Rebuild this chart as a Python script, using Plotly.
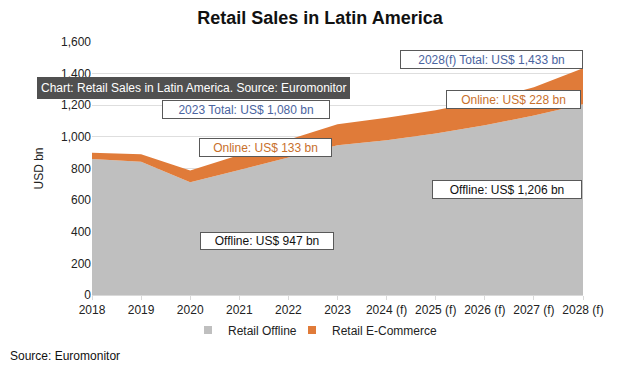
import plotly.graph_objects as go

years = ["2018", "2019", "2020", "2021", "2022", "2023",
         "2024 (f)", "2025 (f)", "2026 (f)", "2027 (f)", "2028 (f)"]
offline = [860, 842, 713, 791, 869, 947, 978, 1022, 1073, 1135, 1206]
online = [40, 48, 74, 95, 113, 133, 143, 147, 158, 179, 228]
y_ticks = [0, 200, 400, 600, 800, 1000, 1200, 1400, 1600]

GRAY = "#bfbfbf"
ORANGE = "#e07b39"
BLUE = "#4a64a0"
ORTXT = "#c8702c"
FONT = "Liberation Sans, Arial, sans-serif"

# page body has an 8px default margin: draw the figure 8px smaller and shift coordinates
OFF = 8
W, H = 640 - OFF, 379 - OFF

fig = go.Figure()
fig.add_trace(go.Scatter(x=years, y=offline, stackgroup="one", mode="none",
                         fillcolor=GRAY, name="Retail Offline", showlegend=False))
fig.add_trace(go.Scatter(x=years, y=online, stackgroup="one", mode="none",
                         fillcolor=ORANGE, name="Retail E-Commerce", showlegend=False))
# legend entries
fig.add_trace(go.Scatter(x=[None], y=[None], mode="markers", name="Retail Offline",
                         marker=dict(symbol="square", size=8, color=GRAY), legend="legend"))
fig.add_trace(go.Scatter(x=[None], y=[None], mode="markers", name="Retail E-Commerce",
                         marker=dict(symbol="square", size=8, color=ORANGE), legend="legend2"))

# 2023 dashed line
fig.add_shape(type="line", xref="x", yref="paper", x0="2023", x1="2023", y0=0, y1=1.01,
              line=dict(color="#e02020", width=2, dash="dash"))

L, R, T, B = 92 - OFF, 583 - OFF, 42 - OFF, 295 - OFF
def px(x):
    return (x - OFF - L) / (R - L)
def py(y):
    return (B - (y - OFF)) / (B - T)

def box(text, x0, x1, y0, y1, color):
    fig.add_annotation(text=text, xref="paper", yref="paper",
                       x=px((x0 + x1) / 2), y=py((y0 + y1) / 2),
                       xanchor="center", yanchor="middle", showarrow=False,
                       width=x1 - x0 - 4, height=y1 - y0 - 4, align="center",
                       font=dict(family=FONT, size=12, color=color),
                       bgcolor="white", bordercolor="#595959", borderwidth=1, borderpad=1)

box("2023 Total: US$ 1,080 bn", 162, 330, 100, 119, BLUE)
box("Online: US$ 133 bn", 199, 332, 138, 157, ORTXT)
box("Offline: US$ 947 bn", 200, 334, 232, 250, "#111111")
box("2028(f) Total: US$ 1,433 bn", 400, 583, 50, 69, BLUE)
box("Online: US$ 228 bn", 446, 581, 90, 109, ORTXT)
box("Offline: US$ 1,206 bn", 432, 582, 180, 199, "#111111")

# tooltip-like overlay
fig.add_annotation(text="Chart: Retail Sales in Latin America. Source: Euromonitor",
                   xref="paper", yref="paper", x=px(37), y=py(88), xanchor="left",
                   yanchor="middle", showarrow=False,
                   font=dict(family=FONT, size=12, color="white"),
                   bgcolor="#505050", bordercolor="#505050", borderwidth=1, borderpad=3)

fig.add_annotation(text="Source: Euromonitor", xref="paper", yref="paper",
                   x=px(8), y=py(356), xanchor="left", yanchor="middle", showarrow=False,
                   font=dict(family=FONT, size=12, color="#111111"))

leg_common = dict(orientation="h", yanchor="middle", y=py(330),
                  font=dict(family=FONT, size=12, color="#222222"),
                  bgcolor="rgba(0,0,0,0)")

fig.update_layout(
    width=W, height=H,
    margin=dict(l=L, r=W - R, t=T, b=H - B),
    paper_bgcolor="white", plot_bgcolor="white",
    font=dict(family=FONT, size=12, color="#222222"),
    title=dict(text="<b>Retail Sales in Latin America</b>", x=px(320), xanchor="center",
               xref="paper", y=1 - (18 - OFF) / H, yanchor="middle",
               font=dict(family=FONT, size=18, color="#111111")),
    xaxis=dict(type="category", range=[0, 10], showgrid=False, showline=True,
               linecolor="#d9d9d9", ticks="outside", ticklen=4, tickcolor="#d9d9d9",
               tickfont=dict(size=12, color="#222222")),
    yaxis=dict(range=[0, 1600], tickvals=y_ticks, tickformat=",", showgrid=True,
               gridcolor="#dedede", zeroline=False, ticks="",
               title=dict(text="USD bn", standoff=14, font=dict(size=12, color="#222222")),
               tickfont=dict(size=12, color="#222222")),
    legend=dict(x=px(188), xanchor="left", **leg_common),
    legend2=dict(x=px(292), xanchor="left", **leg_common),
    hovermode=False,
)

fig.write_html("out.html")
